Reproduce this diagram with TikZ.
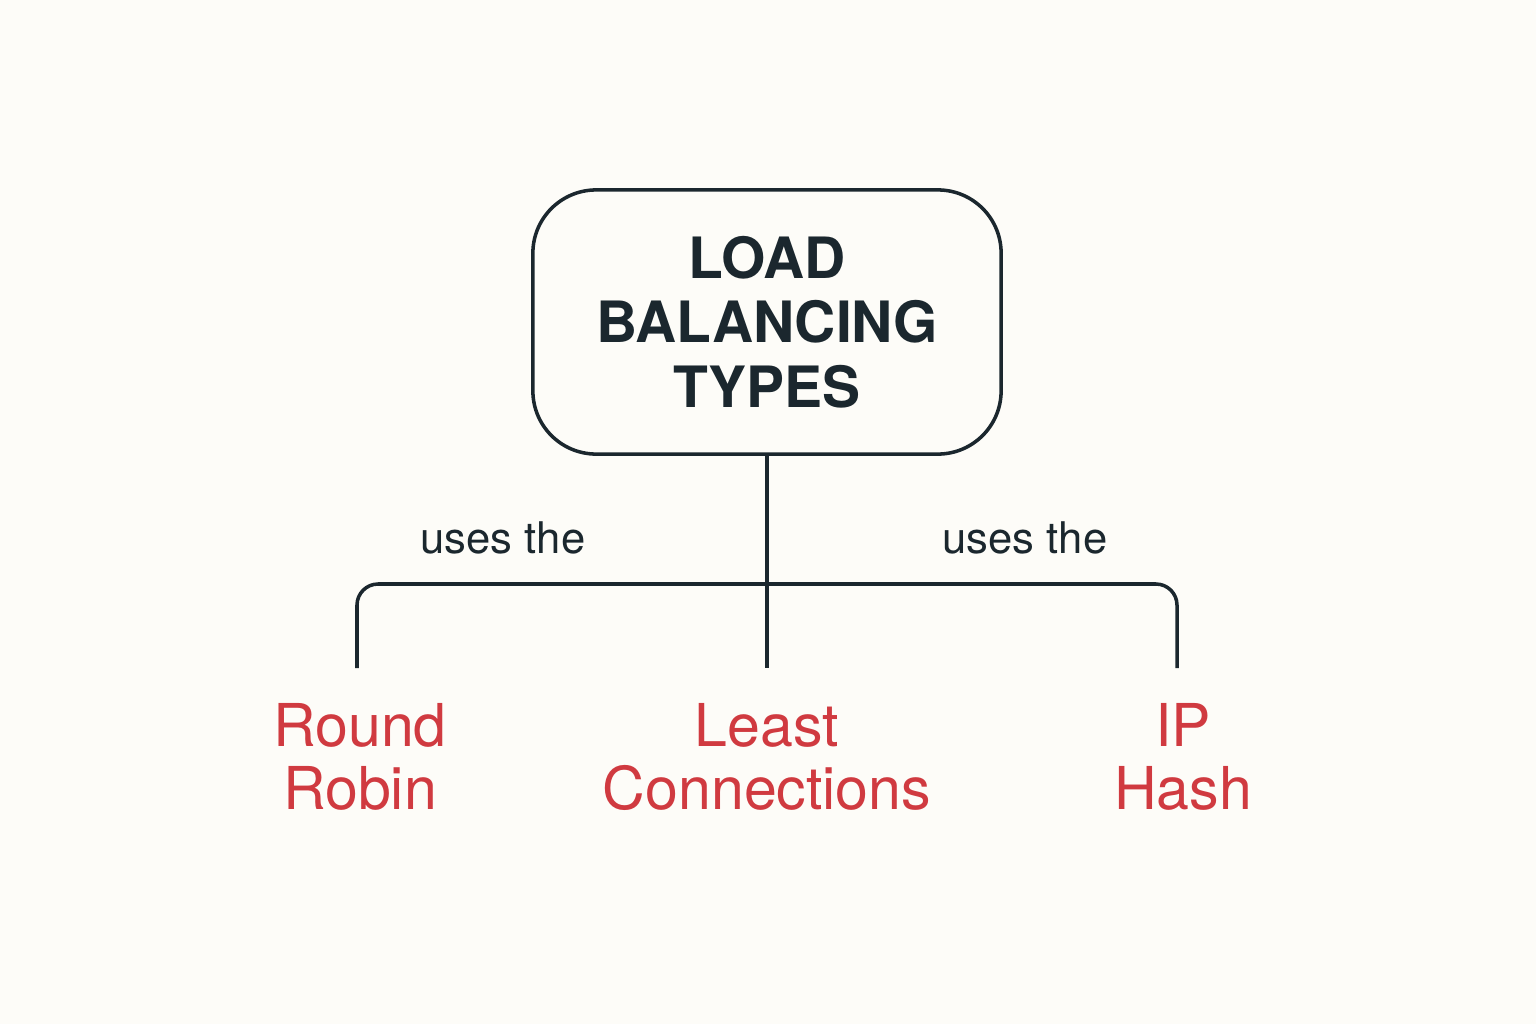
\documentclass[tikz,border=0pt]{standalone}
\usepackage{fontspec}
\setmainfont{TeX Gyre Heros}
\usepackage{tikz}
\usetikzlibrary{calc,positioning}
\definecolor{ink}{RGB}{27,39,46}
\definecolor{leafred}{RGB}{208,58,64}
\definecolor{paper}{RGB}{253,252,248}

\begin{document}
\begin{tikzpicture}[x=0.01cm,y=-0.01cm,
    topbox/.style={draw=ink, line width=1pt, rounded corners=18pt,
        minimum width=4.68cm, minimum height=2.64cm, align=center,
        font=\fontsize{16.2}{18.4}\selectfont\bfseries, text=ink},
    leaf/.style={anchor=north, align=center, inner ysep=10pt, text=leafred,
        font=\fontsize{16.8}{17.9}\selectfont},
    uses/.style={text=ink, font=\fontsize{12.4}{14}\selectfont},
    wire/.style={draw=ink, line width=1pt}]
                \fill[paper] (0,0) rectangle (1536,1024);
                \useasboundingbox (0,0) rectangle (1536,1024);
                \node[topbox] (lbt) at (767,322) {LOAD\\BALANCING\\TYPES};
                \coordinate (hub) at (767,584);
                \foreach \n/\x/\t in {rr/360/{Round\\Robin}, lc/767/{Least\\Connections}, iph/1183/{IP\\Hash}}
                {
                \node[leaf] (\n) at (\x,668) {\t};
                }
                \foreach \i/\x in {1/503,2/1025}
                {
                \node[uses] (uses\i) at (\x,538) {uses the};
                }
                \draw[wire] (lbt.south) -- (lc.north);
                \draw[wire, rounded corners=6pt] (rr.north -| 357,0) |- (hub) -| (iph.north -| 1177,0);
            \end{tikzpicture}
\end{document}
